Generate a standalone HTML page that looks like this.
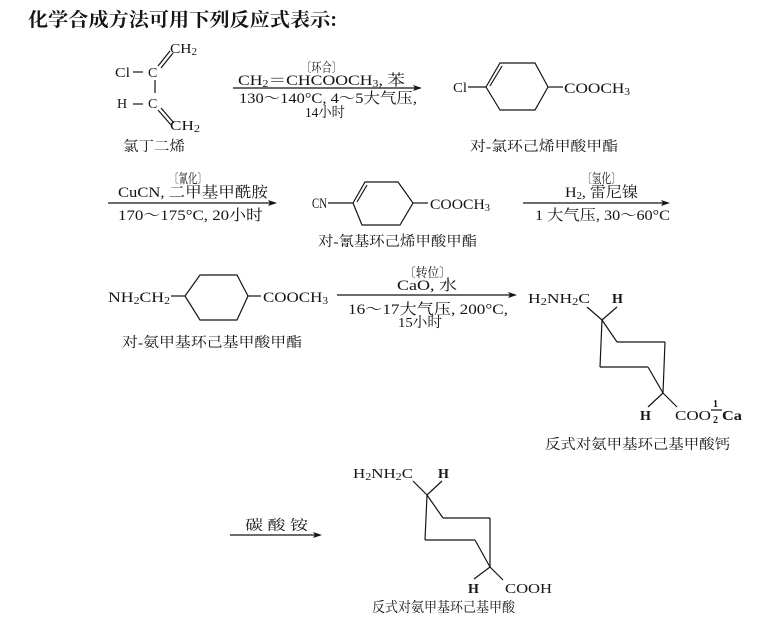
<!DOCTYPE html>
<html><head><meta charset="utf-8"><style>
html,body{margin:0;padding:0;background:#fff;}
svg{display:block;}
text{font-family:"Liberation Serif","Noto Serif CJK SC",serif;fill:#151515;}
.t{font-family:"Noto Serif CJK SC","Liberation Serif",serif;font-weight:bold;}
line,polyline{stroke:#151515;stroke-width:1.2;fill:none;}
</style></head><body>
<svg width="781" height="625" viewBox="0 0 781 625" xmlns="http://www.w3.org/2000/svg">
<!-- title -->
<text class="t" x="28" y="26" font-size="19" textLength="309" lengthAdjust="spacingAndGlyphs">化学合成方法可用下列反应式表示:</text>

<!-- chloroprene -->
<text x="170" y="53" font-size="14" textLength="27" lengthAdjust="spacingAndGlyphs">CH<tspan font-size="10" dy="2">2</tspan></text>
<line x1="158" y1="66" x2="170" y2="51"/><line x1="161" y1="68" x2="173" y2="53"/>
<text x="115" y="77" font-size="14" textLength="15" lengthAdjust="spacingAndGlyphs">Cl</text>
<line x1="133" y1="72" x2="143" y2="72"/>
<text x="148" y="77" font-size="14">C</text>
<line x1="155" y1="80" x2="155" y2="93"/>
<text x="117" y="108" font-size="14">H</text>
<line x1="133" y1="104" x2="143" y2="104"/>
<text x="148" y="108" font-size="14">C</text>
<line x1="158" y1="110" x2="171" y2="125"/><line x1="161" y1="108" x2="174" y2="123"/>
<text x="170" y="130" font-size="14" textLength="30" lengthAdjust="spacingAndGlyphs">CH<tspan font-size="10" dy="2">2</tspan></text>
<text x="123" y="151" font-size="14" textLength="62" lengthAdjust="spacingAndGlyphs">氯丁二烯</text>

<!-- arrow 1 -->
<text x="301" y="72" font-size="13" textLength="41" lengthAdjust="spacingAndGlyphs">〔环合〕</text>
<text x="238" y="85" font-size="15" textLength="167" lengthAdjust="spacingAndGlyphs">CH<tspan font-size="10" dy="2">2</tspan><tspan dy="-2">＝CHCOOCH</tspan><tspan font-size="10" dy="2">3</tspan><tspan dy="-2">, 苯</tspan></text>
<line x1="233" y1="88" x2="420" y2="88"/>
<polygon points="422,88 413,85 415,88 413,91" fill="#151515"/>
<text x="239" y="103" font-size="15" textLength="178" lengthAdjust="spacingAndGlyphs">130～140°C, 4～5大气压,</text>
<text x="305" y="117" font-size="14" textLength="40" lengthAdjust="spacingAndGlyphs">14小时</text>

<!-- product 1 -->
<text x="453" y="92" font-size="14" textLength="14" lengthAdjust="spacingAndGlyphs">Cl</text>
<line x1="468" y1="87" x2="486" y2="87"/>
<polyline points="486,87 500,63 535,63 548,87 535,110 500,110 486,87"/>
<line x1="490" y1="86" x2="502" y2="66"/>
<line x1="548" y1="87" x2="563" y2="87"/>
<text x="564" y="93" font-size="15" textLength="66" lengthAdjust="spacingAndGlyphs">COOCH<tspan font-size="10" dy="2">3</tspan></text>
<text x="470" y="151" font-size="14" textLength="148" lengthAdjust="spacingAndGlyphs">对-氯环己烯甲酸甲酯</text>

<!-- arrow 2 -->
<text x="169" y="183" font-size="13" textLength="38" lengthAdjust="spacingAndGlyphs">〔氰化〕</text>
<text x="118" y="197" font-size="15" textLength="150" lengthAdjust="spacingAndGlyphs">CuCN, 二甲基甲酰胺</text>
<line x1="108" y1="203" x2="275" y2="203"/>
<polygon points="277,203 268,200 270,203 268,206" fill="#151515"/>
<text x="118" y="220" font-size="15" textLength="145" lengthAdjust="spacingAndGlyphs">170～175°C, 20小时</text>

<!-- product 2 -->
<text x="312" y="208" font-size="15" textLength="15" lengthAdjust="spacingAndGlyphs">CN</text>
<line x1="328" y1="203" x2="353" y2="203"/>
<polyline points="353,203 365,182 398,182 413,203 400,225 362,225 353,203"/>
<line x1="357" y1="202" x2="367" y2="185"/>
<line x1="413" y1="203" x2="428" y2="203"/>
<text x="430" y="209" font-size="15" textLength="60" lengthAdjust="spacingAndGlyphs">COOCH<tspan font-size="10" dy="2">3</tspan></text>
<text x="318" y="246" font-size="14" textLength="159" lengthAdjust="spacingAndGlyphs">对-氰基环己烯甲酸甲酯</text>

<!-- arrow 3 -->
<text x="582" y="183" font-size="13" textLength="39" lengthAdjust="spacingAndGlyphs">〔氢化〕</text>
<text x="565" y="197" font-size="15" textLength="73" lengthAdjust="spacingAndGlyphs">H<tspan font-size="10" dy="2">2</tspan><tspan dy="-2">, 雷尼镍</tspan></text>
<line x1="523" y1="203" x2="668" y2="203"/>
<polygon points="670,203 661,200 663,203 661,206" fill="#151515"/>
<text x="535" y="220" font-size="15" textLength="135" lengthAdjust="spacingAndGlyphs">1 大气压, 30～60°C</text>

<!-- product 3 -->
<text x="108" y="302" font-size="15" textLength="62" lengthAdjust="spacingAndGlyphs">NH<tspan font-size="10" dy="2">2</tspan><tspan dy="-2">CH</tspan><tspan font-size="10" dy="2">2</tspan></text>
<line x1="171" y1="296" x2="185" y2="296"/>
<polyline points="185,296 200,275 237,275 248,296 237,320 200,320 185,296"/>
<line x1="248" y1="296" x2="261" y2="296"/>
<text x="263" y="302" font-size="15" textLength="65" lengthAdjust="spacingAndGlyphs">COOCH<tspan font-size="10" dy="2">3</tspan></text>
<text x="122" y="347" font-size="14" textLength="180" lengthAdjust="spacingAndGlyphs">对-氨甲基环己基甲酸甲酯</text>

<!-- arrow 4 -->
<text x="404" y="277" font-size="13" textLength="47" lengthAdjust="spacingAndGlyphs">〔转位〕</text>
<text x="397" y="290" font-size="15" textLength="60" lengthAdjust="spacingAndGlyphs">CaO, 水</text>
<line x1="337" y1="295" x2="515" y2="295"/>
<polygon points="517,295 508,292 510,295 508,298" fill="#151515"/>
<text x="348" y="314" font-size="15" textLength="160" lengthAdjust="spacingAndGlyphs">16～17大气压, 200°C,</text>
<text x="398" y="327" font-size="14" textLength="44" lengthAdjust="spacingAndGlyphs">15小时</text>

<!-- product 4 -->
<text x="528" y="303" font-size="14" textLength="62" lengthAdjust="spacingAndGlyphs">H<tspan font-size="10" dy="2">2</tspan><tspan dy="-2">NH</tspan><tspan font-size="10" dy="2">2</tspan><tspan dy="-2">C</tspan></text>
<text x="612" y="303" font-size="14" font-weight="bold">H</text>
<line x1="602" y1="320" x2="587" y2="307"/>
<line x1="602" y1="320" x2="617" y2="307"/>
<line x1="602" y1="320" x2="600" y2="367"/>
<line x1="602" y1="320" x2="617" y2="342"/>
<line x1="617" y1="342" x2="665" y2="342"/>
<line x1="665" y1="342" x2="663" y2="393"/>
<line x1="600" y1="367" x2="648" y2="367"/>
<line x1="648" y1="367" x2="663" y2="393"/>
<line x1="663" y1="393" x2="648" y2="407"/>
<line x1="663" y1="393" x2="677" y2="407"/>
<text x="640" y="420" font-size="14" font-weight="bold">H</text>
<text x="675" y="420" font-size="14" textLength="36" lengthAdjust="spacingAndGlyphs">COO</text>
<text x="713" y="407" font-size="10" font-weight="bold">1</text>
<line x1="711" y1="410" x2="722" y2="410"/>
<text x="713" y="423" font-size="10" font-weight="bold">2</text>
<text x="722" y="420" font-size="14" font-weight="bold" textLength="20" lengthAdjust="spacingAndGlyphs">Ca</text>
<text x="545" y="449" font-size="14" textLength="185" lengthAdjust="spacingAndGlyphs">反式对氨甲基环己基甲酸钙</text>

<!-- arrow 5 -->
<text x="245" y="530" font-size="14" textLength="63" lengthAdjust="spacingAndGlyphs">碳 酸 铵</text>
<line x1="230" y1="535" x2="320" y2="535"/>
<polygon points="322,535 313,532 315,535 313,538" fill="#151515"/>

<!-- product 5 -->
<text x="353" y="478" font-size="14" textLength="60" lengthAdjust="spacingAndGlyphs">H<tspan font-size="10" dy="2">2</tspan><tspan dy="-2">NH</tspan><tspan font-size="10" dy="2">2</tspan><tspan dy="-2">C</tspan></text>
<text x="438" y="478" font-size="14" font-weight="bold">H</text>
<line x1="427" y1="495" x2="413" y2="481"/>
<line x1="427" y1="495" x2="442" y2="481"/>
<line x1="427" y1="495" x2="425" y2="540"/>
<line x1="427" y1="495" x2="443" y2="518"/>
<line x1="443" y1="518" x2="490" y2="518"/>
<line x1="490" y1="518" x2="490" y2="567"/>
<line x1="425" y1="540" x2="475" y2="540"/>
<line x1="475" y1="540" x2="490" y2="567"/>
<line x1="490" y1="567" x2="474" y2="579"/>
<line x1="490" y1="567" x2="503" y2="580"/>
<text x="468" y="593" font-size="14" font-weight="bold">H</text>
<text x="505" y="593" font-size="14" textLength="47" lengthAdjust="spacingAndGlyphs">COOH</text>
<text x="372" y="612" font-size="14" textLength="143" lengthAdjust="spacingAndGlyphs">反式对氨甲基环己基甲酸</text>
</svg>
</body></html>
